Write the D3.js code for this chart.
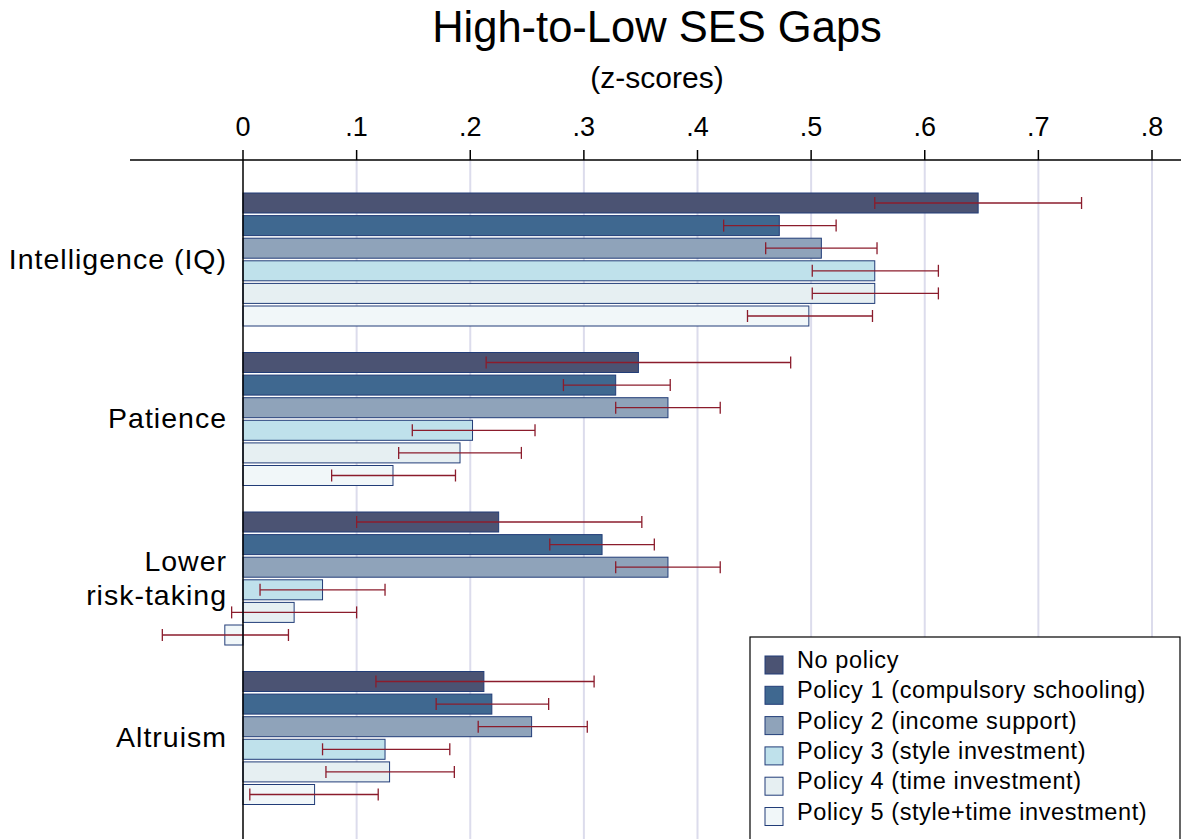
<!DOCTYPE html>
<html><head><meta charset="utf-8">
<script src="https://cdn.jsdelivr.net/npm/d3@7"></script>
<style>body{margin:0;background:#fff}text{font-family:Arial,"Liberation Sans",sans-serif}</style>
</head><body><svg id="c" width="1181" height="839"></svg>
<script>
var outcomes = ["Intelligence (IQ)", "Patience", "Lower\nrisk-taking", "Altruism"];
var policies = ["No policy", "Policy 1 (compulsory schooling)", "Policy 2 (income support)",
  "Policy 3 (style investment)", "Policy 4 (time investment)", "Policy 5 (style+time investment)"];
var colors = ["#4b5373", "#3f6890", "#8fa3ba", "#bfe1eb", "#e6eff2", "#f1f7f9"];
// gap estimates [outcome][policy]
var gaps = [
  [0.647, 0.472, 0.509, 0.556, 0.556, 0.498],
  [0.348, 0.328, 0.374, 0.202, 0.191, 0.132],
  [0.225, 0.316, 0.374, 0.070, 0.045, -0.016],
  [0.212, 0.219, 0.254, 0.125, 0.129, 0.063]
];
var lo = [
  [0.556, 0.423, 0.460, 0.501, 0.501, 0.444],
  [0.214, 0.282, 0.328, 0.149, 0.137, 0.078],
  [0.100, 0.270, 0.328, 0.015, -0.010, -0.071],
  [0.117, 0.170, 0.207, 0.070, 0.073, 0.006]
];
var hi = [
  [0.738, 0.522, 0.558, 0.612, 0.612, 0.554],
  [0.482, 0.376, 0.420, 0.257, 0.245, 0.187],
  [0.351, 0.362, 0.420, 0.125, 0.100, 0.040],
  [0.309, 0.269, 0.303, 0.182, 0.186, 0.119]
];
var ticks = [0, .1, .2, .3, .4, .5, .6, .7, .8];
var tickLabels = ["0", ".1", ".2", ".3", ".4", ".5", ".6", ".7", ".8"];

var svg = d3.select("#c");
var x = d3.scaleLinear().domain([0, 0.8]).range([243, 1152]);
var groupTop = d3.scaleLinear().domain([0, 1]).range([193, 352.5]);
var step = 22.6, bh = 20;

svg.append("text").attr("x", 657).attr("y", 42).attr("text-anchor", "middle").attr("font-size", 43.5).text("High-to-Low SES Gaps");
svg.append("text").attr("x", 657).attr("y", 88).attr("text-anchor", "middle").attr("font-size", 30).text("(z-scores)");

svg.selectAll(".grid").data(ticks.slice(1)).enter().append("line")
  .attr("x1", x).attr("x2", x).attr("y1", 160).attr("y2", 839)
  .attr("stroke", "#dcdcec").attr("stroke-width", 2);
svg.append("line").attr("x1", 130).attr("x2", 1181).attr("y1", 160).attr("y2", 160).attr("stroke", "#000").attr("stroke-width", 1.5);
ticks.forEach(function (t, i) {
  svg.append("line").attr("x1", x(t)).attr("x2", x(t)).attr("y1", 150).attr("y2", 160).attr("stroke", "#000").attr("stroke-width", 1.5);
  svg.append("text").attr("x", x(t)).attr("y", 136).attr("text-anchor", "middle").attr("font-size", 27).text(tickLabels[i]);
});

outcomes.forEach(function (o, g) {
  var top = groupTop(g);
  var lines = o.split("\n");
  var cy = top + 3 * step - 2;
  lines.forEach(function (l, k) {
    svg.append("text").attr("x", 227).attr("y", cy + 10 + (k - (lines.length - 1) / 2) * 34)
      .attr("text-anchor", "end").attr("font-size", 28.5).attr("letter-spacing", 1).text(l);
  });
  policies.forEach(function (p, i) {
    var y = top + i * step, v = gaps[g][i];
    svg.append("rect").attr("x", Math.min(x(0), x(v))).attr("y", y).attr("width", Math.abs(x(v) - x(0)))
      .attr("height", bh).attr("fill", colors[i]).attr("stroke", "#223d78").attr("stroke-width", 1);
    var ym = y + bh / 2;
    svg.append("line").attr("x1", x(lo[g][i])).attr("x2", x(hi[g][i])).attr("y1", ym).attr("y2", ym).attr("stroke", "#8b1c2c").attr("stroke-width", 1.3);
    [lo[g][i], hi[g][i]].forEach(function (e) {
      svg.append("line").attr("x1", x(e)).attr("x2", x(e)).attr("y1", ym - 6).attr("y2", ym + 6).attr("stroke", "#8b1c2c").attr("stroke-width", 1.3);
    });
  });
});
svg.append("line").attr("x1", x(0)).attr("x2", x(0)).attr("y1", 160).attr("y2", 839).attr("stroke", "#000").attr("stroke-width", 1.5);

var lg = svg.append("g");
lg.append("rect").attr("x", 750).attr("y", 637).attr("width", 430).attr("height", 205).attr("fill", "#fff").attr("stroke", "#000").attr("stroke-width", 1.2);
policies.forEach(function (p, i) {
  var y = 660 + i * 30.3;
  lg.append("rect").attr("x", 765).attr("y", y - 4).attr("width", 18).attr("height", 18).attr("fill", colors[i]).attr("stroke", "#223d78");
  lg.append("text").attr("x", 797).attr("y", y + 8).attr("font-size", 23.5).attr("letter-spacing", 0.6).text(p);
});
</script></body></html>
